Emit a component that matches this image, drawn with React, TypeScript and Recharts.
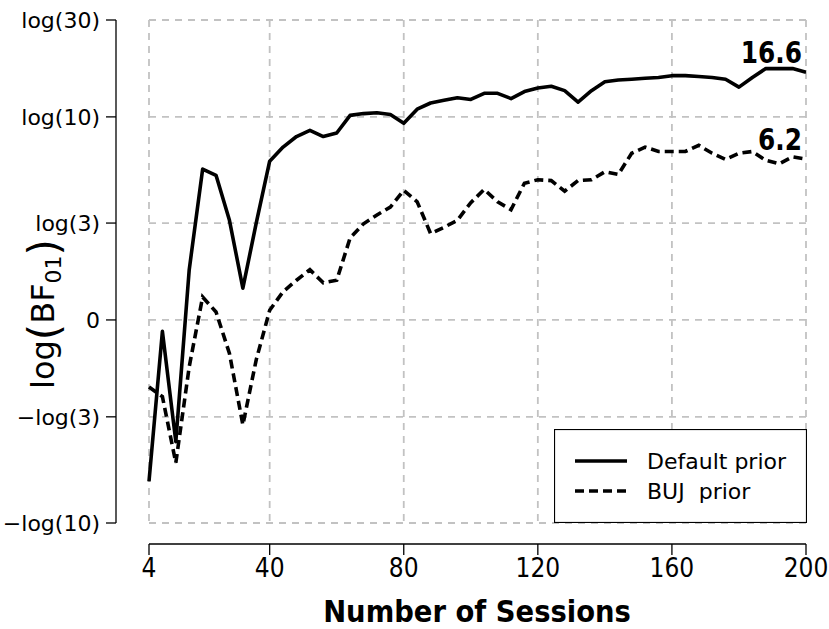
import React from 'react';
import { LineChart, Line, XAxis, YAxis, CartesianGrid, Legend, LabelList } from 'recharts';

// ---- data ----
const sessions = [
  4, 8, 12, 16, 20, 24, 28, 32, 36, 40,
  44, 48, 52, 56, 60, 64, 68, 72, 76, 80,
  84, 88, 92, 96, 100, 104, 108, 112, 116, 120,
  124, 128, 132, 136, 140, 144, 148, 152, 156, 160,
  164, 168, 172, 176, 180, 184, 188, 192, 196, 200,
];

// natural log of BF01, default prior (solid)
const defaultPriorLogBF = [
  -1.83, -0.13, -1.38, 0.57, 1.71, 1.64, 1.13, 0.36, 1.1, 1.8,
  1.96, 2.08, 2.15, 2.08, 2.12, 2.32, 2.34, 2.35, 2.33, 2.23,
  2.39, 2.46, 2.49, 2.52, 2.5, 2.57, 2.57, 2.51, 2.59, 2.63,
  2.65, 2.6, 2.47, 2.6, 2.7, 2.72, 2.73, 2.74, 2.75, 2.77,
  2.77, 2.76, 2.75, 2.73, 2.64, 2.75, 2.85, 2.85, 2.85, 2.809,
];

// natural log of BF01, BUJ prior (dashed)
const bujPriorLogBF = [
  -0.76, -0.87, -1.62, -0.53, 0.26, 0.09, -0.38, -1.19, -0.45, 0.11,
  0.32, 0.45, 0.57, 0.42, 0.45, 0.93, 1.09, 1.19, 1.28, 1.47,
  1.34, 0.98, 1.05, 1.13, 1.33, 1.48, 1.34, 1.25, 1.55, 1.59,
  1.58, 1.46, 1.58, 1.59, 1.68, 1.65, 1.89, 1.96, 1.91, 1.91,
  1.91, 1.98, 1.89, 1.82, 1.89, 1.91, 1.81, 1.77, 1.85, 1.825,
];

const seriesNames = ['Default prior', 'BUJ  prior'];
const xTicks = [4, 40, 80, 120, 160, 200];
const yTickBF = [0.1, 1 / 3, 1, 3, 10, 30];
const yTickLabels = ['\u2212log(10)', '\u2212log(3)', '0', 'log(3)', 'log(10)', 'log(30)'];
const xTitle = 'Number of Sessions';

// ---- derived ----
const data = sessions.map((s, i) => ({ s, def: defaultPriorLogBF[i], buj: bujPriorLogBF[i] }));
const yTicks = yTickBF.map((v) => Math.log(v));
const lastIndex = data.length - 1;

const FONT = '"DejaVu Sans", sans-serif';
const DASH = '9 5';
const Y_SHIFT = -33; // y axis spine offset (px)
const X_SHIFT = 21; // x axis spine offset (px)

const yFmt = (v: number) => {
  const i = yTicks.findIndex((t) => Math.abs(t - v) < 1e-6);
  return i >= 0 ? yTickLabels[i] : '';
};

const XTick = (props: any) => {
  const { x, y, payload } = props;
  const ay = y + X_SHIFT;
  return (
    <g>
      <line x1={x} x2={x} y1={ay} y2={ay + 11} stroke="#000" strokeWidth={1.3} />
      <text
        transform={`translate(${x},${ay + 33}) scale(0.9,1)`}
        textAnchor="middle"
        fontSize={26}
        fontFamily={FONT}
        fill="#000"
      >
        {payload.value}
      </text>
    </g>
  );
};

const YTick = (props: any) => {
  const { x, y, payload } = props;
  const ax = x + Y_SHIFT;
  return (
    <g>
      <line x1={ax - 10} x2={ax} y1={y} y2={y} stroke="#000" strokeWidth={1.3} />
      <text x={ax - 16} y={y + 8} textAnchor="end" fontSize={22} fontFamily={FONT} fill="#000">
        {yFmt(payload.value)}
      </text>
    </g>
  );
};

const YTitle = () => {
  const x = 54 - Y_SHIFT;
  const y = 314;
  return (
    <text
      x={x}
      y={y}
      transform={`rotate(-90 ${x} ${y})`}
      textAnchor="middle"
      fontSize={32}
      fontFamily={FONT}
      fill="#000"
    >
      <tspan>log</tspan>
      <tspan fontSize={42} dy={5}>(</tspan>
      <tspan dy={-5}>BF</tspan>
      <tspan fontSize={22} dy={7}>01</tspan>
      <tspan fontSize={42} dy={-2}>)</tspan>
    </text>
  );
};

const XTitle = () => (
  <text
    transform={`translate(477,${622 - X_SHIFT}) scale(0.93,1)`}
    textAnchor="middle"
    fontSize={29.5}
    fontWeight="bold"
    fontFamily={FONT}
    fill="#000"
  >
    {xTitle}
  </text>
);

const endLabel = (props: any) => {
  const { x, y, value, index } = props;
  if (index !== lastIndex) return null;
  return (
    <text
      transform={`translate(${x - 4},${y - 9}) scale(0.8,1)`}
      textAnchor="end"
      fontSize={31}
      fontWeight="bold"
      fontFamily={FONT}
      fill="#000"
    >
      {Math.exp(value).toFixed(1)}
    </text>
  );
};

const renderLegend = () => (
  <svg width={253} height={94} style={{ display: 'block' }}>
    <rect x={0.5} y={0.5} width={252} height={93} fill="#fff" stroke="#000" strokeWidth={1.2} />
    {seriesNames.map((name, i) => {
      const cy = 32 + i * 30;
      return (
        <g key={name}>
          <line
            x1={21}
            x2={73}
            y1={cy}
            y2={cy}
            stroke="#000"
            strokeWidth={3.5}
            strokeDasharray={i === 1 ? DASH : undefined}
          />
          <text
            x={93}
            y={cy + 8}
            fontSize={22}
            fontFamily={FONT}
            fill="#000"
            style={{ whiteSpace: 'pre' }}
          >
            {name}
          </text>
        </g>
      );
    })}
  </svg>
);

export default function App() {
  return (
    <div style={{ width: 829, height: 629, position: 'relative', background: '#fff' }}>
      <style>{`
        body { margin: 0; }
        .yax { transform: translate(${Y_SHIFT}px, 0px); }
        .xax { transform: translate(0px, ${X_SHIFT}px); }
      `}</style>
      <LineChart
        width={829}
        height={629}
        data={data}
        margin={{ top: 20, right: 23, bottom: 46, left: 9 }}
        style={{ fontFamily: FONT }}
      >
        <CartesianGrid stroke="#c2c2c2" strokeWidth={1.8} strokeDasharray="7 6" />
        <XAxis
          className="xax"
          dataKey="s"
          type="number"
          domain={[4, 200]}
          ticks={xTicks}
          interval={0}
          height={60}
          tick={<XTick />}
          tickSize={0}
          tickMargin={0}
          tickLine={false}
          axisLine={{ stroke: '#000', strokeWidth: 1.3 }}
          label={{ content: () => <XTitle /> }}
        />
        <YAxis
          className="yax"
          type="number"
          domain={[yTicks[0], yTicks[yTicks.length - 1]]}
          ticks={yTicks}
          interval={0}
          width={140}
          tick={<YTick />}
          tickSize={0}
          tickMargin={0}
          tickLine={false}
          axisLine={{ stroke: '#000', strokeWidth: 1.3 }}
          label={{ content: () => <YTitle /> }}
        />
        <Legend
          layout="horizontal"
          verticalAlign="middle"
          align="center"
          content={renderLegend}
          wrapperStyle={{ position: 'absolute', left: 554, top: 429, width: 253, height: 94, bottom: 'auto', right: 'auto' }}
        />
        <Line
          name={seriesNames[0]}
          dataKey="def"
          stroke="#000"
          strokeWidth={3.6}
          dot={false}
          strokeLinejoin="round"
          isAnimationActive={false}
        >
          <LabelList dataKey="def" content={endLabel} />
        </Line>
        <Line
          name={seriesNames[1]}
          dataKey="buj"
          stroke="#000"
          strokeWidth={3.6}
          strokeDasharray={DASH}
          dot={false}
          isAnimationActive={false}
        >
          <LabelList dataKey="buj" content={endLabel} />
        </Line>
      </LineChart>
    </div>
  );
}
